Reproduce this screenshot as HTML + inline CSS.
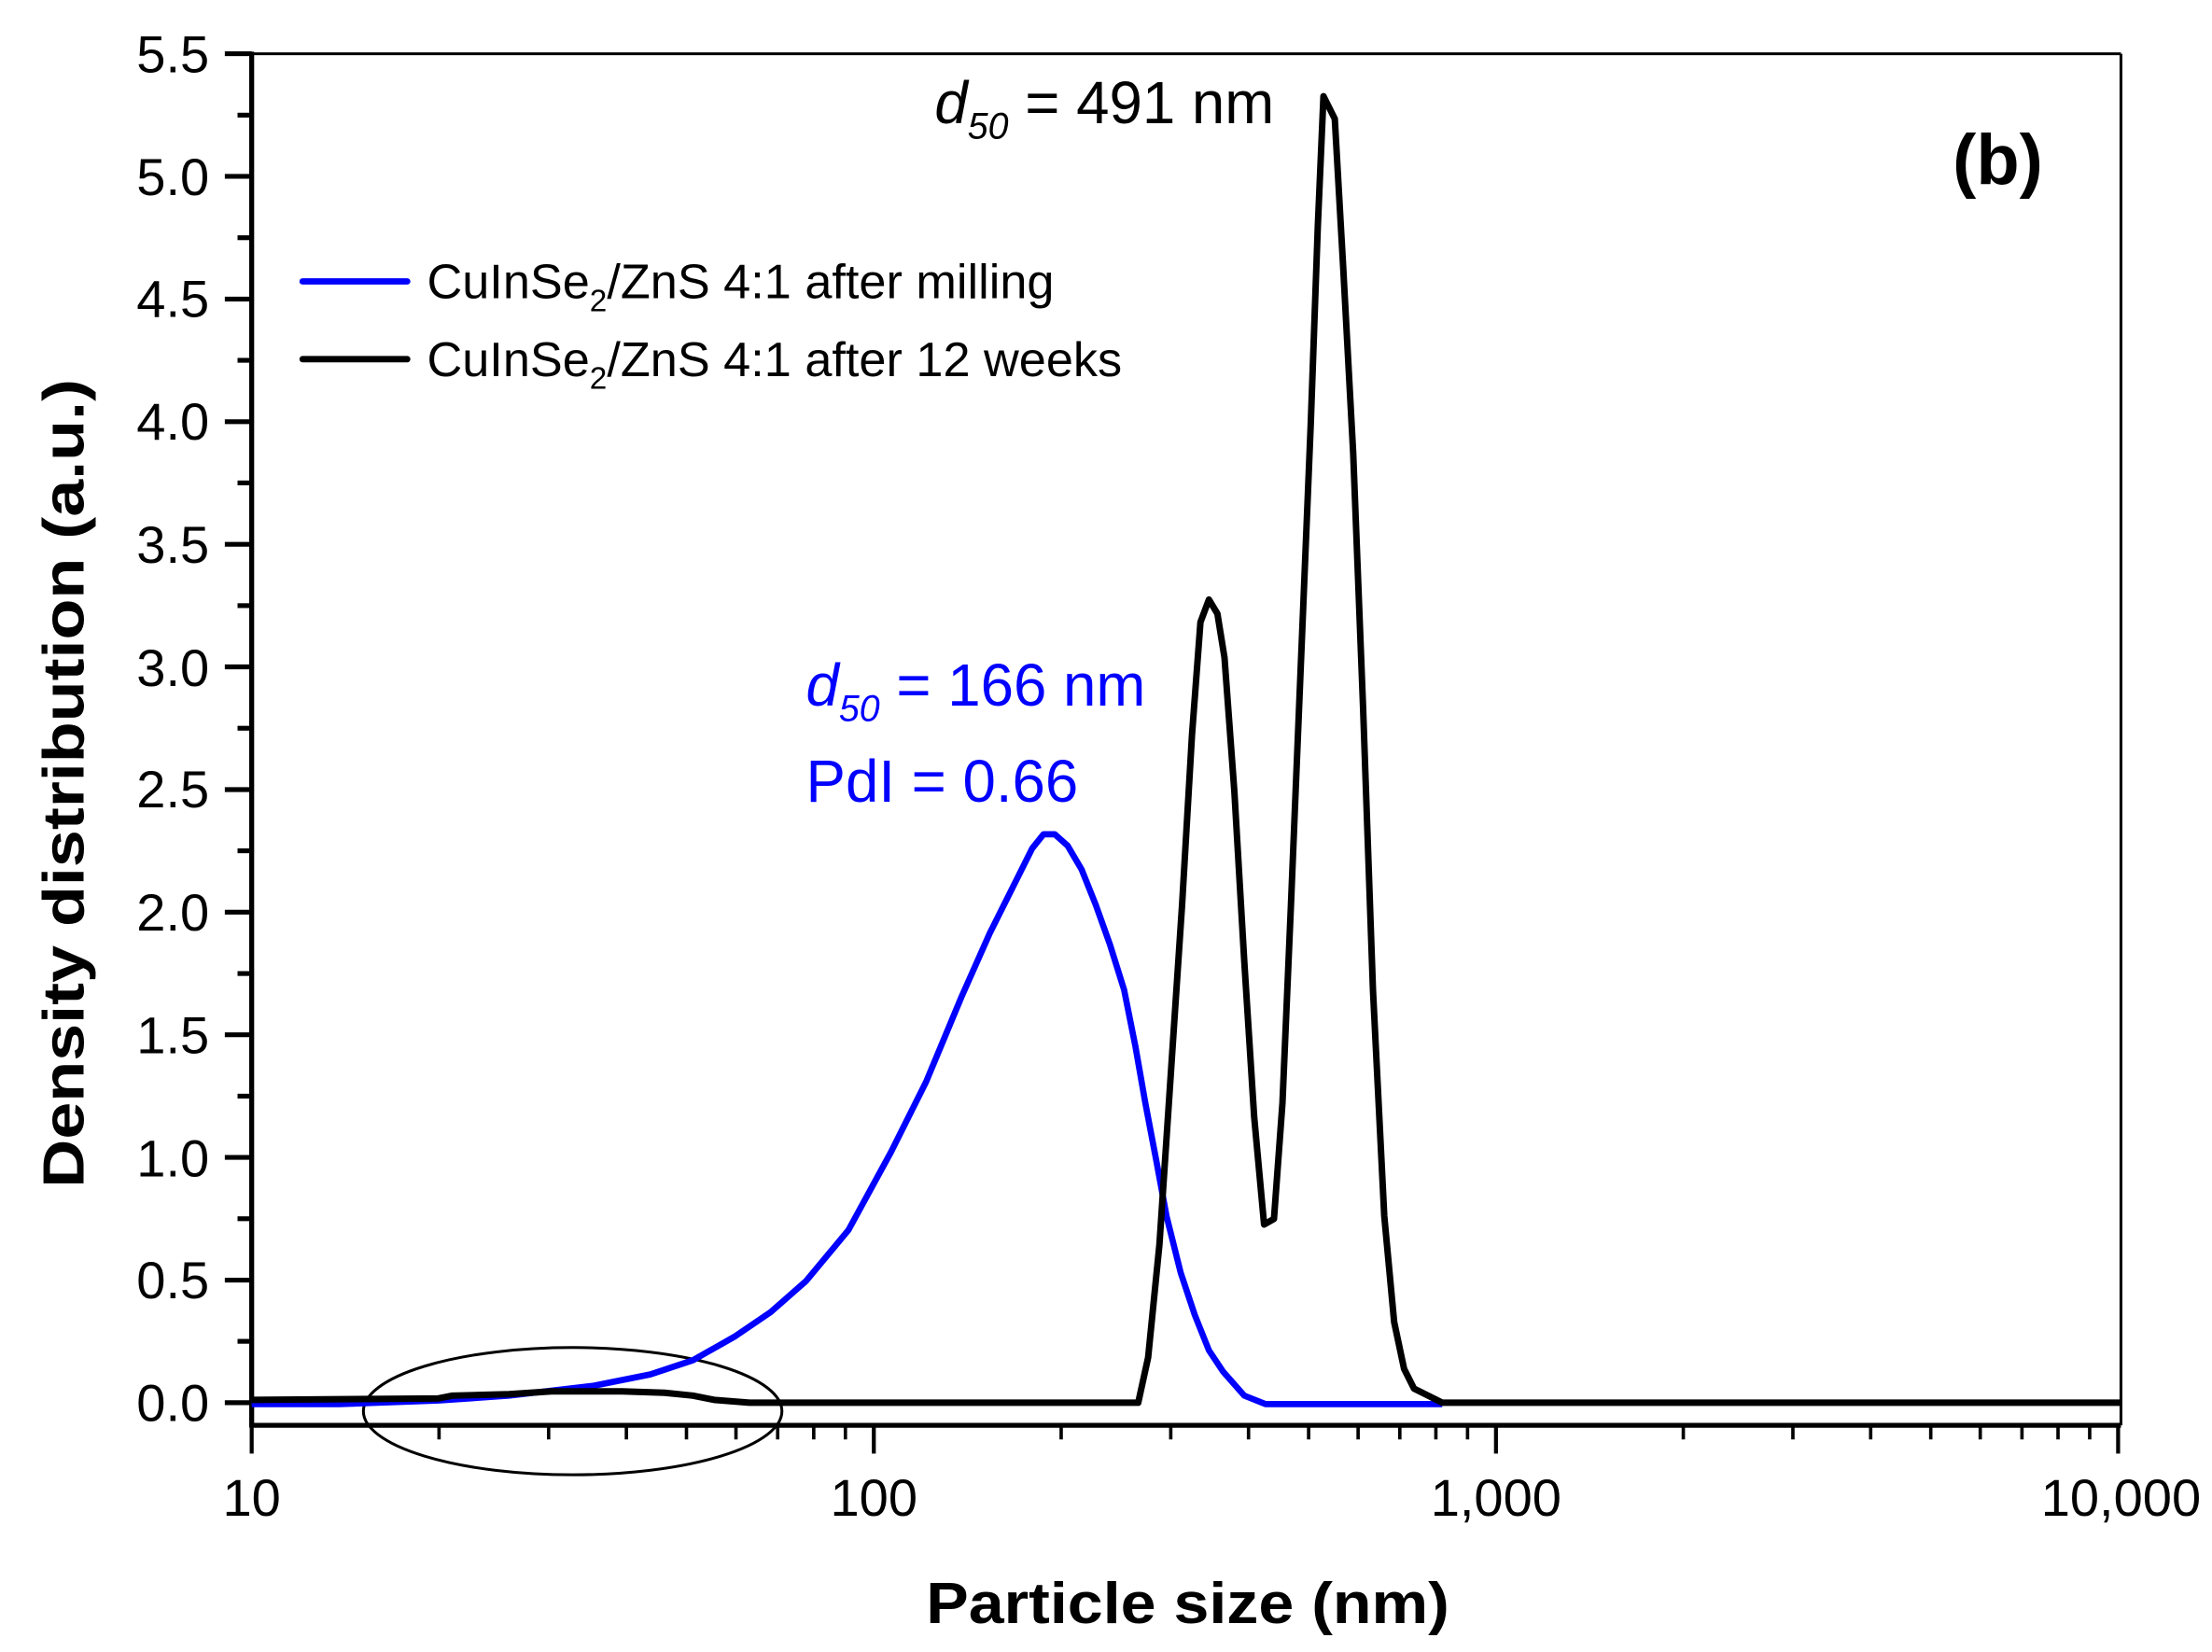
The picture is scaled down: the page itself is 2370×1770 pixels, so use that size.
<!DOCTYPE html>
<html><head><meta charset="utf-8"><style>html,body{margin:0;padding:0;background:#fff}svg{display:block}</style></head>
<body>
<svg width="2370" height="1770" viewBox="0 0 1564.4 1168.3" xmlns="http://www.w3.org/2000/svg" font-family="'Liberation Sans', Arial, sans-serif">
<rect width="1564.4" height="1168.3" fill="#fff"/>
<!-- frame -->
<line x1="178" y1="38" x2="1500" y2="38" stroke="#000" stroke-width="2"/>
<line x1="1500" y1="38" x2="1500" y2="1008" stroke="#000" stroke-width="2"/>
<line x1="178" y1="36.5" x2="178" y2="1009.5" stroke="#000" stroke-width="3.5"/>
<line x1="176.5" y1="1008" x2="1500" y2="1008" stroke="#000" stroke-width="3.5"/>
<!-- y ticks -->
<g stroke="#000" stroke-width="3.4">
<line x1="159" y1="38" x2="178" y2="38"/><line x1="168" y1="81.4" x2="178" y2="81.4"/>
<line x1="159" y1="124.7" x2="178" y2="124.7"/><line x1="168" y1="168.1" x2="178" y2="168.1"/>
<line x1="159" y1="211.5" x2="178" y2="211.5"/><line x1="168" y1="254.8" x2="178" y2="254.8"/>
<line x1="159" y1="298.2" x2="178" y2="298.2"/><line x1="168" y1="341.5" x2="178" y2="341.5"/>
<line x1="159" y1="384.9" x2="178" y2="384.9"/><line x1="168" y1="428.3" x2="178" y2="428.3"/>
<line x1="159" y1="471.6" x2="178" y2="471.6"/><line x1="168" y1="515" x2="178" y2="515"/>
<line x1="159" y1="558.4" x2="178" y2="558.4"/><line x1="168" y1="601.7" x2="178" y2="601.7"/>
<line x1="159" y1="645.1" x2="178" y2="645.1"/><line x1="168" y1="688.5" x2="178" y2="688.5"/>
<line x1="159" y1="731.8" x2="178" y2="731.8"/><line x1="168" y1="775.2" x2="178" y2="775.2"/>
<line x1="159" y1="818.5" x2="178" y2="818.5"/><line x1="168" y1="861.9" x2="178" y2="861.9"/>
<line x1="159" y1="905.3" x2="178" y2="905.3"/><line x1="168" y1="948.6" x2="178" y2="948.6"/>
<line x1="159" y1="992" x2="178" y2="992"/>
</g>
<g font-size="37" text-anchor="end" fill="#000">
<text x="148" y="51">5.5</text><text x="148" y="138">5.0</text><text x="148" y="224">4.5</text>
<text x="148" y="311">4.0</text><text x="148" y="398">3.5</text><text x="148" y="485">3.0</text>
<text x="148" y="571">2.5</text><text x="148" y="658">2.0</text><text x="148" y="745">1.5</text>
<text x="148" y="832">1.0</text><text x="148" y="918">0.5</text><text x="148" y="1005">0.0</text>
</g>
<!-- x ticks -->
<g stroke="#000" stroke-width="2.8">
<line x1="178" y1="1008" x2="178" y2="1028"/>
<line x1="618" y1="1008" x2="618" y2="1028"/>
<line x1="1058" y1="1008" x2="1058" y2="1028"/>
<line x1="1498" y1="1008" x2="1498" y2="1028"/>
</g>
<g stroke="#000" stroke-width="2.4">
<path d="M310.5 1008v10M388 1008v10M443 1008v10M485.5 1008v10M520.5 1008v10M550 1008v10M575.5 1008v10M597.9 1008v10
M750.5 1008v10M828 1008v10M883 1008v10M925.5 1008v10M960.5 1008v10M990 1008v10M1015.5 1008v10M1037.9 1008v10
M1190.5 1008v10M1268 1008v10M1323 1008v10M1365.5 1008v10M1400.5 1008v10M1430 1008v10M1455.5 1008v10M1477.9 1008v10"/>
</g>
<g font-size="37" text-anchor="middle" fill="#000">
<text x="178" y="1072">10</text><text x="618" y="1072">100</text><text x="1058" y="1072">1,000</text><text x="1500" y="1072">10,000</text>
</g>
<!-- titles -->
<text x="840" y="1148" font-size="41" font-weight="bold" text-anchor="middle" textLength="370" lengthAdjust="spacingAndGlyphs">Particle size (nm)</text>
<text transform="translate(59,554) rotate(-90)" font-size="41" font-weight="bold" text-anchor="middle" textLength="572" lengthAdjust="spacingAndGlyphs">Density distribution (a.u.)</text>
<!-- legend -->
<line x1="214" y1="199" x2="288" y2="199" stroke="#0000ff" stroke-width="4.5" stroke-linecap="round"/>
<line x1="214" y1="254" x2="288" y2="254" stroke="#000" stroke-width="4.5" stroke-linecap="round"/>
<text x="302" y="211" font-size="34.5">CuInSe<tspan font-size="22" dy="9">2</tspan><tspan dy="-9">/ZnS 4:1 after milling</tspan></text>
<text x="302" y="266" font-size="34.5">CuInSe<tspan font-size="22" dy="9">2</tspan><tspan dy="-9">/ZnS 4:1 after 12 weeks</tspan></text>
<!-- annotations -->
<text x="661" y="87" font-size="42"><tspan font-style="italic">d</tspan><tspan font-style="italic" font-size="26" dy="11">50</tspan><tspan dy="-11"> = 491 nm</tspan></text>
<text x="570" y="499" font-size="42" fill="#0000ff"><tspan font-style="italic">d</tspan><tspan font-style="italic" font-size="26" dy="11">50</tspan><tspan dy="-11"> = 166 nm</tspan></text>
<text x="570" y="567" font-size="42" fill="#0000ff">PdI = 0.66</text>
<text x="1381" y="130" font-size="50" font-weight="bold">(b)</text>
<!-- ellipse -->
<ellipse cx="405" cy="998" rx="148" ry="45" fill="none" stroke="#000" stroke-width="2"/>
<!-- blue series -->
<polyline fill="none" stroke="#0000ff" stroke-width="4.4" stroke-linejoin="round" points="178,993 240,993 310,990.5 360,987 420,980 460,972 490,962 520,945 545,928 570,906 600,870 630,815 655,765 680,705 700,660 720,620 730,600 738,590 746,590 755,598 765,615 775,640 785,668 795,700 803,740 810,780 818,822 825,860 835,900 845,930 855,955 865,970 880,987 895,993 1020,993"/>
<!-- black series -->
<polyline fill="none" stroke="#000" stroke-width="4.6" stroke-linejoin="round" points="178,990 310,989 320,987 360,986 390,984 440,984 470,985 490,987 505,990 530,992 805,992 812,960 820,880 828,760 836,640 843,520 849,440 855,424 861,434 866,465 873,560 880,680 887,790 894,866 901,862 907,780 913,640 920,470 927,300 932,160 936,68 944,84 950,190 957,320 964,500 971,700 979,860 986,935 993,968 1000,982 1020,992 1500,992"/>
</svg>
</body></html>
